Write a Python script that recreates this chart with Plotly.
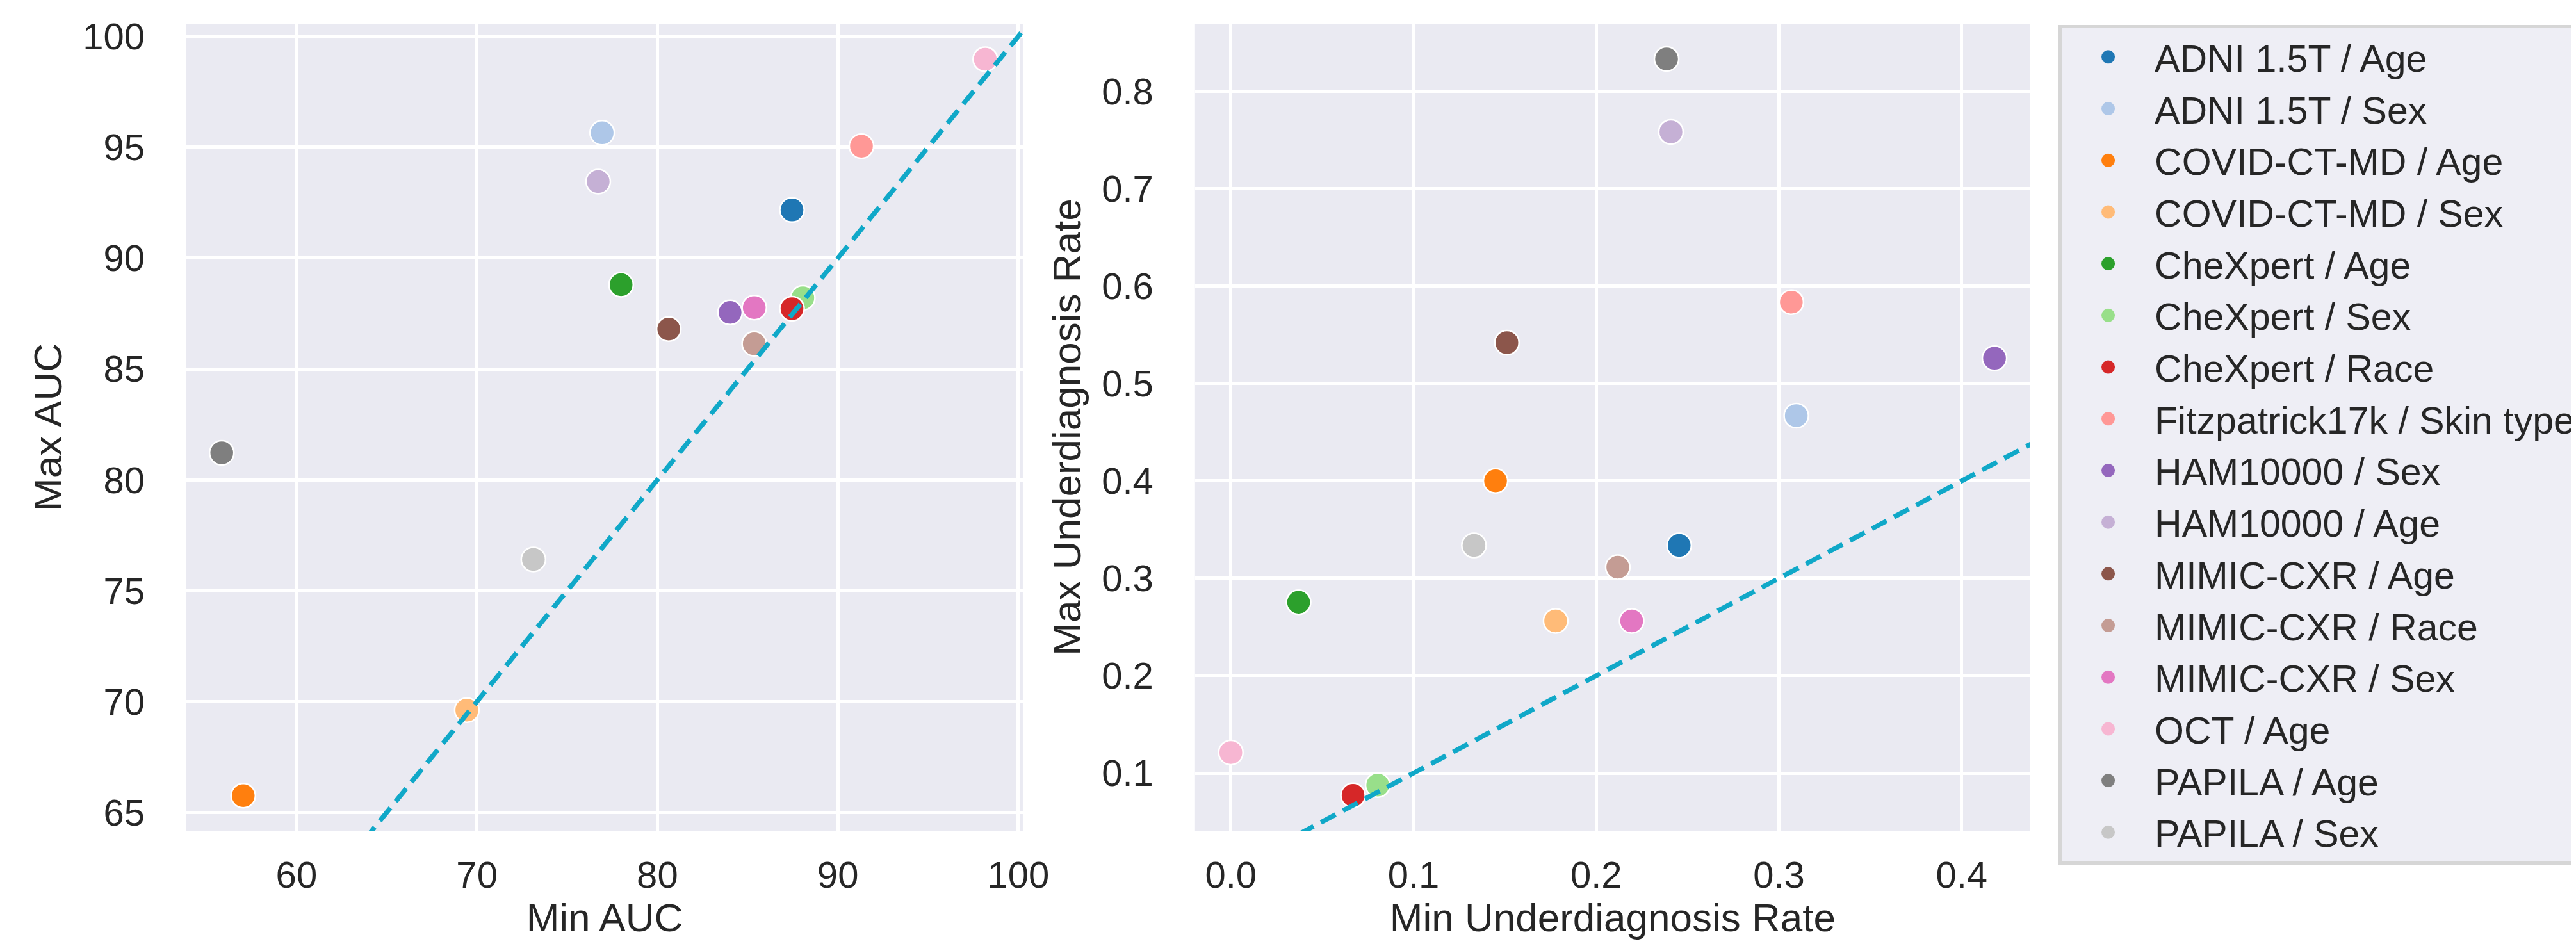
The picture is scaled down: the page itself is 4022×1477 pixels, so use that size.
import plotly.graph_objects as go

# ---------------- data ----------------
categories = [
    "ADNI 1.5T / Age", "ADNI 1.5T / Sex", "COVID-CT-MD / Age", "COVID-CT-MD / Sex",
    "CheXpert / Age", "CheXpert / Sex", "CheXpert / Race", "Fitzpatrick17k / Skin type",
    "HAM10000 / Sex", "HAM10000 / Age", "MIMIC-CXR / Age", "MIMIC-CXR / Race",
    "MIMIC-CXR / Sex", "OCT / Age", "PAPILA / Age", "PAPILA / Sex",
]
colors = [
    "#1f77b4", "#aec7e8", "#ff7f0e", "#ffbb78", "#2ca02c", "#98df8a", "#d62728", "#ff9896",
    "#9467bd", "#c5b0d5", "#8c564b", "#c49c94", "#e377c2", "#f7b6d2", "#7f7f7f", "#c7c7c7",
]
min_auc = [87.46, 76.94, 57.05, 69.44, 77.99, 88.06, 87.46, 91.31,
           84.03, 76.72, 80.63, 85.37, 85.37, 98.17, 55.86, 73.13]
max_auc = [92.17, 95.65, 65.76, 69.62, 88.80, 88.21, 87.72, 95.05,
           87.55, 93.45, 86.80, 86.14, 87.77, 98.97, 81.22, 76.41]
min_under = [0.2454, 0.3095, 0.1449, 0.1778, 0.0371, 0.0804, 0.0669, 0.3068,
             0.4180, 0.2409, 0.1511, 0.2118, 0.2194, 0.0000, 0.2385, 0.1331]
max_under = [0.3338, 0.4671, 0.4001, 0.2563, 0.2755, 0.0877, 0.0771, 0.5836,
             0.5260, 0.7585, 0.5421, 0.3115, 0.2563, 0.1211, 0.8335, 0.3338]

auc_ticks = [60, 70, 80, 90, 100]
auc_yticks = [65, 70, 75, 80, 85, 90, 95, 100]
rate_xticks = [0.0, 0.1, 0.2, 0.3, 0.4]
rate_yticks = [0.1, 0.2, 0.3, 0.4, 0.5, 0.6, 0.7, 0.8]

auc_xrange = [53.9, 100.25]
auc_yrange = [64.18, 100.57]
rate_xrange = [-0.0196, 0.4376]
rate_yrange = [0.0408, 0.8696]

# ---------------- style ----------------
FONT = "Liberation Sans"
TXT = "#262626"
BG = "#EAEAF2"
DIAG = "#10A8C8"

W, H = 4022, 1477
M_L, M_R, M_T, M_B = 283, 860, 29, 90
PLOT_BOTTOM = 1289  # pixel row of the axes bottom
gs_h = H - M_T - M_B
y_dom0 = (H - M_B - PLOT_BOTTOM) / gs_h
LEGEND_TOP = 31

fig = go.Figure()

for name, c, x1, y1, x2, y2 in zip(categories, colors, min_auc, max_auc, min_under, max_under):
    fig.add_trace(go.Scatter(
        x=[x1], y=[y1], mode="markers", name=name, showlegend=False,
        marker=dict(color=c, size=38, line=dict(color="white", width=2.5)),
        xaxis="x", yaxis="y"))
    fig.add_trace(go.Scatter(
        x=[x2], y=[y2], mode="markers", name=name, showlegend=False,
        marker=dict(color=c, size=38, line=dict(color="white", width=2.5)),
        xaxis="x2", yaxis="y2"))

# legend entries
for name, c in zip(categories, colors):
    fig.add_trace(go.Scatter(
        x=[None], y=[None], mode="markers", name=name, showlegend=True,
        legendgroup=name,
        marker=dict(color=c, size=16, line=dict(color=c, width=5)),
        xaxis="x", yaxis="y"))

# identity lines (drawn on top)
lo = min(auc_xrange[0], auc_yrange[0]) - 5
hi = max(auc_xrange[1], auc_yrange[1]) + 5
fig.add_trace(go.Scatter(x=[lo, hi], y=[lo, hi], mode="lines", showlegend=False,
                         line=dict(color=DIAG, width=7.5, dash="26px,13px"),
                         xaxis="x", yaxis="y", hoverinfo="skip"))
lo2 = min(rate_xrange[0], rate_yrange[0]) - 0.1
hi2 = max(rate_xrange[1], rate_yrange[1]) + 0.1
fig.add_trace(go.Scatter(x=[lo2, hi2], y=[lo2, hi2], mode="lines", showlegend=False,
                         line=dict(color=DIAG, width=7.5, dash="26px,13px"),
                         xaxis="x2", yaxis="y2", hoverinfo="skip"))

axis_common = dict(
    showgrid=True, gridcolor="white", gridwidth=5, zeroline=False, showline=False,
    ticks="", tickfont=dict(family=FONT, size=58, color=TXT), automargin=False,
)
title_font = dict(family=FONT, size=62, color=TXT)

fig.update_layout(
    width=W, height=H,
    margin=dict(l=M_L, r=M_R, t=M_T, b=M_B, autoexpand=False),
    paper_bgcolor="white", plot_bgcolor=BG,
    font=dict(family=FONT, color=TXT),
    xaxis=dict(domain=[0, 0.4536], range=auc_xrange, tickvals=auc_ticks,
               ticktext=[str(v) for v in auc_ticks], ticklabelstandoff=30,
               title=dict(text="Min AUC", font=title_font, standoff=10),
               anchor="y", **axis_common),
    yaxis=dict(domain=[y_dom0, 1], range=auc_yrange, tickvals=auc_yticks,
               ticktext=[str(v) for v in auc_yticks], ticklabelstandoff=64,
               title=dict(text="Max AUC", font=title_font, standoff=12),
               anchor="x", **axis_common),
    xaxis2=dict(domain=[0.5470, 1], range=rate_xrange, tickvals=rate_xticks,
                ticktext=[f"{v:.1f}" for v in rate_xticks], ticklabelstandoff=30,
                title=dict(text="Min Underdiagnosis Rate", font=title_font, standoff=10),
                anchor="y2", **axis_common),
    yaxis2=dict(domain=[y_dom0, 1], range=rate_yrange, tickvals=rate_yticks,
                ticktext=[f"{v:.1f}" for v in rate_yticks], ticklabelstandoff=64,
                title=dict(text="Max Underdiagnosis Rate", font=title_font, standoff=12),
                anchor="x2", **axis_common),
    legend=dict(
        x=1.0153, y=(H - M_B - LEGEND_TOP) / gs_h, xanchor="left", yanchor="top",
        bgcolor="#EEEEF5", bordercolor="#D6D6D6", borderwidth=5,
        font=dict(family=FONT, size=59, color=TXT),
        itemwidth=135, tracegroupgap=1, traceorder="grouped",
    ),
)

fig.write_html("out.html")
